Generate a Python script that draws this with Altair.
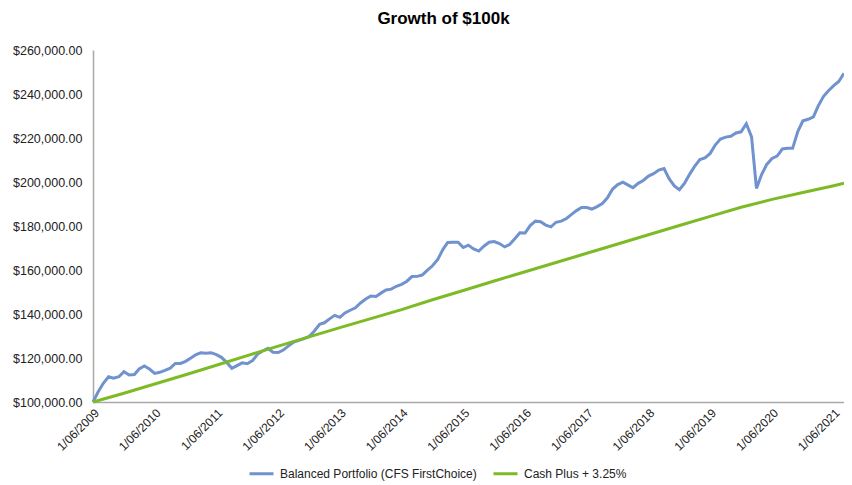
import altair as alt
import pandas as pd

# ---- data (values in $ thousands) ----
start_month = "2009-06-01"
series_names = ["Balanced Portfolio (CFS FirstChoice)", "Cash Plus + 3.25%"]
series_colors = ["#7092CE", "#7CBA26"]

# monthly values, Jun 2009 .. Aug 2021
balanced_k = [
    100.0, 104.5, 108.5, 111.5, 110.8, 111.5, 113.8, 112.3, 112.5, 115.0,
    116.4, 115.0, 113.0, 113.5, 114.4, 115.4, 117.5, 117.5, 118.5, 120.0,
    121.6, 122.4, 122.2, 122.4, 121.5, 120.3, 118.0, 115.3, 116.5, 117.8,
    117.4, 118.8, 121.8, 123.2, 124.4, 122.6, 122.5, 123.6, 125.5, 127.3,
    128.0, 128.8, 129.8, 132.3, 135.3, 136.0, 137.8, 139.4, 138.5, 140.5,
    141.7, 142.8, 145.0, 146.8, 148.2, 148.0, 149.6, 150.9, 151.3, 152.6,
    153.5, 154.8, 157.0, 157.1, 157.7, 159.9, 161.9, 164.8, 169.4, 172.5,
    172.6, 172.6, 170.2, 171.3, 169.6, 168.6, 170.8, 172.6, 172.9, 172.0,
    170.5, 171.6, 174.2, 176.9, 176.8, 180.2, 182.2, 181.9, 180.4, 179.6,
    181.7, 182.2, 183.4, 185.2, 187.0, 188.4, 188.4, 187.7, 188.8, 190.2,
    192.8, 196.8, 198.8, 199.9, 198.6, 197.4, 199.4, 200.7, 202.7, 203.8,
    205.4, 206.1, 201.5, 198.2, 196.5, 199.5, 203.7, 207.1, 210.2, 211.0,
    213.0, 216.8, 219.5, 220.4, 220.8, 222.3, 222.8, 226.5, 220.5, 197.1,
    203.5, 208.0, 210.7, 211.8, 215.0, 215.3, 215.3, 223.0, 227.8, 228.5,
    229.6, 234.5, 238.8, 241.5, 243.8, 245.7, 249.4,
]

# cash line, read every six months (month offsets from Jun 2009)
cash_month_offsets = [0, 6, 12, 18, 24, 30, 36, 42, 48, 54, 60, 66, 72, 78,
                      84, 90, 96, 102, 108, 114, 120, 126, 132, 138, 144, 146]
cash_k = [100.0, 104.0, 108.2, 112.4, 116.7, 121.1, 125.4, 129.6, 133.8,
          137.9, 142.0, 146.5, 150.7, 155.0, 159.2, 163.4, 167.6, 171.8,
          176.0, 180.2, 184.4, 188.5, 192.1, 195.2, 198.3, 199.4]

tick_years = list(range(2009, 2022))
y_ticks = list(range(100000, 260001, 20000))

# ---- build table ----
months = pd.date_range(start_month, periods=len(balanced_k), freq="MS")
df_bal = pd.DataFrame({
    "date": months.strftime("%Y-%m-%dT00:00:00"),
    "value": [v * 1000 for v in balanced_k],
    "series": series_names[0],
})
cash_dates = [months[m] for m in cash_month_offsets]
df_cash = pd.DataFrame({
    "date": [d.strftime("%Y-%m-%dT00:00:00") for d in cash_dates],
    "value": [v * 1000 for v in cash_k],
    "series": series_names[1],
})
df = pd.concat([df_bal, df_cash], ignore_index=True)

FONT = "Liberation Sans"

chart = alt.Chart(df).mark_line(strokeWidth=3).encode(
    x=alt.X(
        "date:T",
        title=None,
        scale=alt.Scale(domain=[alt.DateTime(year=2009, month=6, date=1),
                                alt.DateTime(year=2021, month=8, date=1)]),
        axis=alt.Axis(
            values=[alt.DateTime(year=y, month=6, date=1) for y in tick_years],
            format="%-d/%m/%Y",
            labelAngle=-45,
            labelAlign="right",
            labelBaseline="top",
            labelPadding=5,
            ticks=False,
            grid=False,
            labelFontSize=12,
            labelFont=FONT,
            labelColor="#222222",
            domainColor="#A9A9A9",
            domainWidth=1.5,
            labelOverlap=False,
        ),
    ),
    y=alt.Y(
        "value:Q",
        title=None,
        scale=alt.Scale(domain=[100000, 260000], nice=False, zero=False),
        axis=alt.Axis(
            values=y_ticks,
            format="$,.2f",
            ticks=False,
            grid=False,
            labelPadding=11,
            labelFontSize=12.5,
            labelFont=FONT,
            labelColor="#222222",
            domainColor="#A9A9A9",
            domainWidth=1.5,
        ),
    ),
    color=alt.Color(
        "series:N",
        scale=alt.Scale(domain=series_names, range=series_colors),
        legend=alt.Legend(
            title=None,
            orient="none",
            legendX=155,
            legendY=410,
            direction="horizontal",
            symbolType="stroke",
            symbolSize=576,
            symbolStrokeWidth=3,
            labelFontSize=12,
            labelFont=FONT,
            labelColor="#222222",
            labelOffset=5,
            labelLimit=0,
            columnPadding=10,
        ),
    ),
).properties(
    width=751,
    height=352,
    title=alt.TitleParams(
        text="Growth of $100k",
        fontSize=17,
        fontWeight="bold",
        font=FONT,
        color="#000000",
        anchor="middle",
        dx=-25,
        offset=16,
    ),
    autosize=alt.AutoSizeParams(type="none"),
    padding={"left": 85, "top": 42, "right": 0, "bottom": 80},
).configure_view(stroke=None)

chart.save("out.html", embed_options={"renderer": "svg", "actions": False})
